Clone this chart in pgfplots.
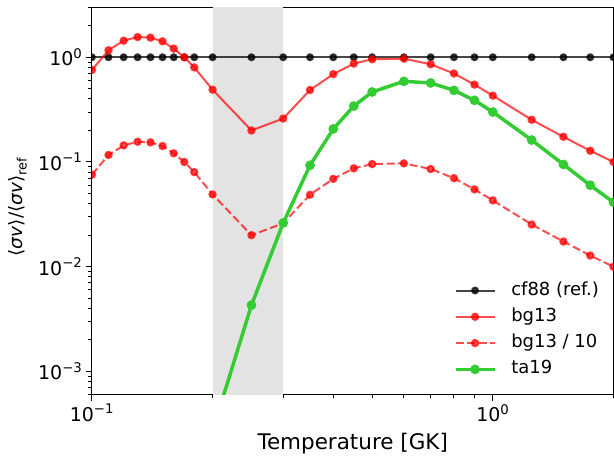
\documentclass[border=0pt]{standalone}
\usepackage{fontspec}
\setmainfont{DejaVu Sans}
\usepackage{pgfplots}
\pgfplotsset{compat=1.18}
\definecolor{bgred}{RGB}{255,0,0}
\definecolor{tagreen}{RGB}{51,204,51}
\definecolor{shade}{RGB}{227,227,227}

\begin{document}
\begin{tikzpicture}
\begin{axis}[
  name=ax, at={(0,0)}, anchor=south west,
  scale only axis, width=522bp, height=387.7bp,
  xmode=log, ymode=log,
  xmin=0.1, xmax=2, ymin=6e-4, ymax=3,
  xtick={0.1,1}, xticklabels={10\textsuperscript{−1},10\textsuperscript{0}},
  minor xtick={0.2,0.3,0.4,0.5,0.6,0.7,0.8,0.9,2},
  ytick={0.001,0.01,0.1,1},
  yticklabels={10\textsuperscript{−3},10\textsuperscript{−2},10\textsuperscript{−1},10\textsuperscript{0}},
  minor ytick={6e-4,7e-4,8e-4,9e-4,0.002,0.003,0.004,0.005,0.006,0.007,0.008,0.009,0.02,0.03,0.04,0.05,0.06,0.07,0.08,0.09,0.2,0.3,0.4,0.5,0.6,0.7,0.8,0.9,2,3},
  tick align=outside, xtick pos=bottom, ytick pos=left,
  major tick length=6bp, minor tick length=3.5bp,
  tick style={black, line width=1bp},
  axis line style={line width=1.1bp},
  tick label style={font=\fontsize{19bp}{22bp}\selectfont},
  xlabel style={font=\fontsize{21.5bp}{25bp}\selectfont, at={(axis description cs:0.5,-0.126)}, anchor=center},
  ylabel style={font=\fontsize{18.5bp}{22bp}\selectfont, at={(axis description cs:-0.142,0.485)}, anchor=center, rotate=0},
  xlabel={Temperature [GK]},
  ylabel={⟨\textit{σv}⟩/⟨\textit{σv}⟩\textsubscript{ref}},
  clip marker paths=true,
  legend cell align=left,
  legend style={draw=none, fill=none, at={(axis description cs:0.6935,0.2926)}, anchor=north west,
    font=\fontsize{18bp}{21bp}\selectfont, inner sep=0pt,
    nodes={inner sep=0pt, text height=13.5bp, text depth=4.5bp}, row sep=8.3bp, column sep=15bp},
  legend image code/.code={\draw[mark repeat=2,mark phase=2,#1] plot coordinates {(0bp,0bp) (19.5bp,0bp) (39bp,0bp)};},
]
\addplot[draw=none, fill=shade, forget plot] coordinates {(0.2,1e-4) (0.3,1e-4) (0.3,10) (0.2,10)} -- cycle;

\addplot[black, opacity=0.72, line width=2bp, mark=*, mark size=3bp, mark options={draw=none}] coordinates {
(0.1,1) (0.11,1) (0.12,1) (0.13,1) (0.14,1) (0.15,1) (0.16,1) (0.17,1) (0.18,1) (0.2,1) (0.25,1) (0.3,1) (0.35,1) (0.4,1) (0.45,1) (0.5,1) (0.6,1) (0.7,1) (0.8,1) (0.9,1) (1.0,1) (1.25,1) (1.5,1) (1.75,1) (2.0,1)};
\addlegendentry{cf88 (ref.)}

\addplot[bgred, opacity=0.7, line width=2bp, mark=*, mark size=3.2bp, mark options={draw=none}] coordinates {
(0.1,0.756) (0.11,1.167) (0.12,1.44) (0.13,1.56) (0.14,1.54) (0.15,1.42) (0.16,1.21) (0.17,1.0) (0.18,0.80) (0.2,0.49) (0.25,0.20) (0.3,0.26) (0.35,0.487) (0.4,0.69) (0.45,0.87) (0.5,0.956) (0.6,0.97) (0.7,0.857) (0.8,0.70) (0.9,0.548) (1.0,0.43) (1.25,0.253) (1.5,0.174) (1.75,0.128) (2.0,0.100)};
\addlegendentry{bg13}

\addplot[bgred, opacity=0.7, line width=2bp, dash pattern=on 8bp off 3.5bp, mark=*, mark size=3.2bp, mark options={draw=none, solid}] coordinates {
(0.1,0.0756) (0.11,0.1167) (0.12,0.144) (0.13,0.156) (0.14,0.154) (0.15,0.142) (0.16,0.121) (0.17,0.100) (0.18,0.080) (0.2,0.049) (0.25,0.020) (0.3,0.026) (0.35,0.0487) (0.4,0.069) (0.45,0.087) (0.5,0.0956) (0.6,0.097) (0.7,0.0857) (0.8,0.070) (0.9,0.0548) (1.0,0.043) (1.25,0.0253) (1.5,0.0174) (1.75,0.0128) (2.0,0.0100)};
\addlegendentry{bg13 / 10}

\addplot[tagreen, line width=3.5bp, mark=*, mark size=3bp, mark options={draw=none}] coordinates {
(0.2,2.7e-4) (0.25,0.0043) (0.3,0.0262) (0.35,0.093) (0.4,0.207) (0.45,0.342) (0.5,0.466) (0.6,0.589) (0.7,0.568) (0.8,0.483) (0.9,0.388) (1.0,0.30) (1.25,0.162) (1.5,0.0947) (1.75,0.060) (2.0,0.0412)};
\addlegendentry{ta19}
\end{axis}
\pgfresetboundingbox
\path[use as bounding box] (-92bp,-62bp) rectangle (522.5bp,395bp);
\end{tikzpicture}
\end{document}
